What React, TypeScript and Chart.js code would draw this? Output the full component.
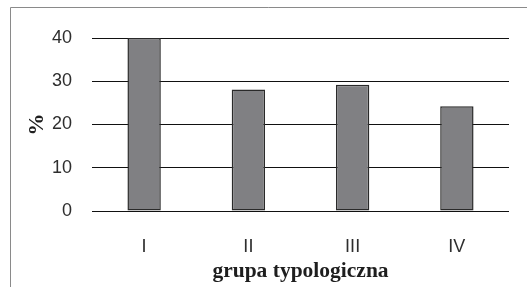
import React, { useEffect, useRef } from "react";
import { Chart, registerables } from "chart.js";

Chart.register(...registerables);

const categories = ["I", "II", "III", "IV"];
const values = [40, 28.1, 29.2, 24.2];
const yTicks = [0, 10, 20, 30, 40];
const xTitle = "grupa typologiczna";
const yTitle = "%";

const framePlugin = {
  id: "frame",
  beforeDraw(chart: any) {
    const ctx = chart.ctx;
    ctx.save();
    ctx.fillStyle = "#ffffff";
    ctx.fillRect(0, 0, chart.width, chart.height);
    ctx.strokeStyle = "#8a8a8a";
    ctx.lineWidth = 1;
    ctx.beginPath();
    ctx.moveTo(10.5, chart.height);
    ctx.lineTo(10.5, 7.5);
    ctx.lineTo(chart.width, 7.5);
    ctx.stroke();
    ctx.restore();
  },
};

export default function App() {
  const ref = useRef<HTMLCanvasElement>(null);
  useEffect(() => {
    document.body.style.margin = "0";
    const chart = new Chart(ref.current!, {
      type: "bar",
      data: {
        labels: categories,
        datasets: [
          {
            data: values,
            backgroundColor: "#808083",
            borderColor: "#2a2a2a",
            borderWidth: 1.5,
            borderSkipped: false,
            barPercentage: 0.32,
            categoryPercentage: 1,
          },
        ],
      },
      plugins: [framePlugin],
      options: {
        responsive: false,
        animation: false,
        events: [],
        layout: { padding: { top: 38, right: 18, left: 0, bottom: 0 } },
        plugins: { legend: { display: false }, tooltip: { enabled: false } },
        scales: {
          x: {
            grid: { display: false },
            border: { display: false },
            ticks: {
              color: "#2e2e2e",
              padding: 17,
              font: { family: "'Liberation Sans', Arial, sans-serif", size: 18 },
            },
            title: {
              display: true,
              text: xTitle,
              color: "#1e1e1e",
              padding: { top: 0, bottom: 3 },
              font: { family: "'Liberation Serif', 'Times New Roman', serif", size: 21.5, weight: "bold" },
            },
            afterFit(scale: any) {
              scale.height = 76;
              scale.paddingLeft = 0;
              scale.paddingRight = 0;
            },
          },
          y: {
            min: 0,
            max: 40,
            afterBuildTicks(scale: any) {
              scale.ticks = yTicks.map((v) => ({ value: v }));
            },
            grid: { color: "#111111", lineWidth: 1, drawTicks: false },
            border: { display: false },
            ticks: {
              color: "#2e2e2e",
              padding: 20,
              font: { family: "'Liberation Sans', Arial, sans-serif", size: 18 },
            },
            title: {
              display: true,
              text: yTitle,
              color: "#1e1e1e",
              padding: { top: 24, bottom: 0 },
              font: { family: "'Liberation Serif', 'Times New Roman', serif", size: 22, weight: "bold" },
            },
            afterFit(scale: any) {
              scale.width = 92;
              scale.paddingTop = 0;
              scale.paddingBottom = 0;
            },
          },
        },
      },
    } as any);
    return () => chart.destroy();
  }, []);
  return (
    <div style={{ position: "relative", width: 527, height: 287 }}>
      <canvas ref={ref} width={527} height={287} style={{ display: "block" }} />
    </div>
  );
}
